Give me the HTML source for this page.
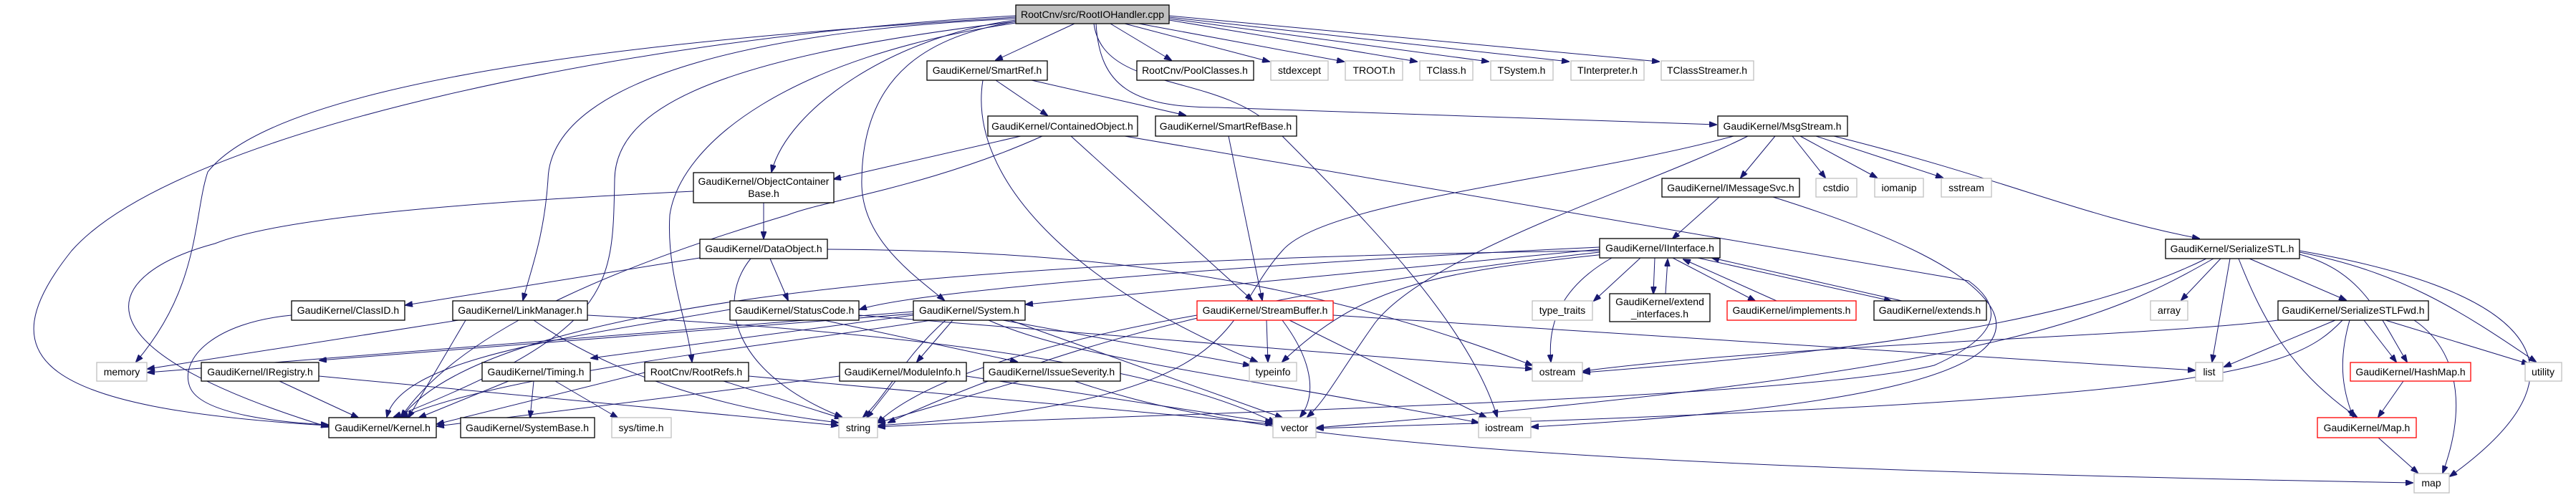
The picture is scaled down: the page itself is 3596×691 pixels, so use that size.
<!DOCTYPE html>
<html><head><meta charset="utf-8"><style>
html,body{margin:0;padding:0;background:#fff;width:3596px;height:691px;overflow:hidden}
svg{display:block}
text{font-family:"Liberation Sans",sans-serif;font-size:14px;fill:#000;text-anchor:middle}
.n{fill:#fff;stroke:#000;stroke-width:1.3}
.g{fill:#fff;stroke:#bfbfbf;stroke-width:1.3}
.r{fill:#fff;stroke:#ff0000;stroke-width:1.3}
.e path{fill:none;stroke:#191970;stroke-width:1}
</style></head><body>
<svg width="3596" height="691" viewBox="0 0 3596 691" xmlns="http://www.w3.org/2000/svg">
<defs><marker id="a" markerWidth="11" markerHeight="8" refX="10" refY="4" orient="auto" markerUnits="userSpaceOnUse"><path d="M0,0 L11,4 L0,8 z" fill="#191970" stroke="#191970"/></marker></defs>
<g class="e" marker-end="url(#a)">
<path d="M1500,33 L1390,84"/>
<path d="M1550,33 L1635,84"/>
<path d="M1570,33 L1772,86"/>
<path d="M1590,33 L1876,86"/>
<path d="M1632,28 L1978,86"/>
<path d="M1632,26 L2078,86"/>
<path d="M1632,24 L2190,86"/>
<path d="M1632,22 L2316,86"/>
<path d="M1530,33 C1535,120 1580,150 1700,150 L2396,174"/>
<path d="M1527,33 C1540,130 1700,100 1780,180 C1900,300 2050,450 2090,582"/>
<path d="M1418,30 C1300,50 1205,100 1203,250 C1200,330 1270,380 1318,419"/>
<path d="M1418,28 C1250,50 1100,150 1077,240"/>
<path d="M1418,26 C1100,40 770,100 765,250 C760,330 740,380 730,419"/>
<path d="M1418,24 C1000,50 400,100 290,240 C270,300 280,400 190,505"/>
<path d="M1418,22 C900,50 250,180 100,350 C-20,500 50,570 458,594"/>
<path d="M1418,32 C1100,80 950,200 935,300 C930,380 960,450 966,505"/>
<path d="M1418,30 C1000,80 860,150 858,250 C855,400 860,460 550,582"/>
<path d="M1390,112 L1462,161"/>
<path d="M1440,112 L1655,161"/>
<path d="M1372,112 C1350,250 1500,400 1755,505"/>
<path d="M1425,190 L1164,250"/>
<path d="M1495,190 L1748,419"/>
<path d="M1455,190 C1300,260 1150,280 1100,300 C900,360 650,450 560,582"/>
<path d="M1570,190 L2748,392 C2800,430 2790,470 2700,510 C2500,560 1500,580 1226,596"/>
<path d="M1715,190 L1762,419"/>
<path d="M2478,190 L2430,248"/>
<path d="M2502,190 L2548,248"/>
<path d="M2513,190 L2620,248"/>
<path d="M2535,190 L2712,248"/>
<path d="M2560,190 C2800,250 2900,300 3070,333"/>
<path d="M2440,190 C2300,260 2000,350 1920,450 C1870,520 1850,560 1825,582"/>
<path d="M2420,190 C2200,250 1850,280 1790,350 C1700,450 1750,560 1226,594"/>
<path d="M2400,275 L2335,333"/>
<path d="M2475,275 C2650,330 2750,380 2780,430 C2830,520 2600,570 2138,596"/>
<path d="M1066,283 L1066,333"/>
<path d="M968,267 C700,280 400,300 300,340 C150,380 80,480 458,596"/>
<path d="M977,360 L566,426"/>
<path d="M1075,361 L1100,419"/>
<path d="M1048,361 C1000,420 1020,520 1175,582"/>
<path d="M1155,348 C1500,350 1800,380 2139,510"/>
<path d="M2233,345 C1900,360 1300,400 1200,432"/>
<path d="M2233,348 L1432,425"/>
<path d="M2240,355 C2000,380 1900,400 1790,505"/>
<path d="M2290,360 L2225,420"/>
<path d="M2310,360 L2308,410"/>
<path d="M2325,410 L2328,362"/>
<path d="M2335,360 L2450,420"/>
<path d="M2480,420 L2350,362"/>
<path d="M2370,360 L2640,420"/>
<path d="M2655,420 L2390,360"/>
<path d="M2250,360 C2180,400 2160,450 2165,505"/>
<path d="M2233,352 C1800,400 1500,470 1240,590"/>
<path d="M2233,350 C1500,360 700,400 560,583"/>
<path d="M3080,361 C2900,450 2600,490 2210,520"/>
<path d="M3090,361 C2950,440 2800,520 1838,597"/>
<path d="M3100,361 L3045,419"/>
<path d="M3113,361 L3088,505"/>
<path d="M3140,361 L3275,419"/>
<path d="M3125,361 C3160,450 3200,520 3290,582"/>
<path d="M3210,355 C3300,380 3320,440 3360,505"/>
<path d="M3210,352 C3350,380 3430,430 3540,505"/>
<path d="M3210,350 C3500,400 3650,500 3420,665"/>
<path d="M3260,447 L3105,512"/>
<path d="M3180,447 C3000,470 2500,480 2210,518"/>
<path d="M3270,447 C3200,520 3100,560 1838,598"/>
<path d="M3280,447 C3265,500 3268,540 3285,582"/>
<path d="M3300,447 L3345,505"/>
<path d="M3330,447 L3530,508"/>
<path d="M3370,447 C3420,480 3450,550 3410,660"/>
<path d="M3355,532 L3320,582"/>
<path d="M3320,611 L3375,660"/>
<path d="M1500,532 C1700,600 2000,650 3368,674"/>
<path d="M640,447 L206,515"/>
<path d="M650,447 L570,583"/>
<path d="M745,447 C850,520 1000,570 1170,590"/>
<path d="M820,440 C1200,460 1600,500 1780,590"/>
<path d="M407,440 C300,450 250,500 265,540 C280,580 400,590 458,593"/>
<path d="M1019,432 C800,470 560,500 540,582"/>
<path d="M1150,447 L1420,505"/>
<path d="M1199,440 L2139,515"/>
<path d="M1330,447 L1280,505"/>
<path d="M1275,440 L825,500"/>
<path d="M1275,438 L446,503"/>
<path d="M1300,447 C1100,480 700,520 560,583"/>
<path d="M1320,447 C1260,500 1240,550 1205,582"/>
<path d="M1400,447 L1745,510"/>
<path d="M1410,447 L1790,583"/>
<path d="M1380,447 C1500,500 1700,520 2064,590"/>
<path d="M1275,435 L206,520"/>
<path d="M1768,447 L1770,505"/>
<path d="M1790,447 C1830,500 1840,550 1815,582"/>
<path d="M1800,447 L2075,583"/>
<path d="M1671,440 C1500,470 1300,520 1225,590"/>
<path d="M1861,440 L3064,517"/>
<path d="M390,532 L500,583"/>
<path d="M445,525 L1170,594"/>
<path d="M710,532 L585,583"/>
<path d="M745,532 L740,583"/>
<path d="M775,532 L862,583"/>
<path d="M900,520 L610,592"/>
<path d="M1010,532 L1175,584"/>
<path d="M1045,525 L1777,592"/>
<path d="M1250,532 L1210,583"/>
<path d="M1172,525 L610,595"/>
<path d="M1349,525 L1776,590"/>
<path d="M1423,532 L1226,590"/>
</g>
<rect x="1418" y="7" width="214" height="26" fill="#bfbfbf" stroke="#000" stroke-width="1.3"/><text x="1525" y="25">RootCnv/src/RootIOHandler.cpp</text>
<rect class="n" x="1294" y="85" width="168" height="27"/><text x="1378" y="103">GaudiKernel/SmartRef.h</text>
<rect class="n" x="1587" y="85" width="163" height="27"/><text x="1668" y="103">RootCnv/PoolClasses.h</text>
<rect class="g" x="1774" y="85" width="80" height="27"/><text x="1814" y="103">stdexcept</text>
<rect class="g" x="1878" y="85" width="80" height="27"/><text x="1918" y="103">TROOT.h</text>
<rect class="g" x="1982" y="85" width="74" height="27"/><text x="2019" y="103">TClass.h</text>
<rect class="g" x="2081" y="85" width="87" height="27"/><text x="2124" y="103">TSystem.h</text>
<rect class="g" x="2193" y="85" width="102" height="27"/><text x="2244" y="103">TInterpreter.h</text>
<rect class="g" x="2319" y="85" width="129" height="27"/><text x="2383" y="103">TClassStreamer.h</text>
<rect class="n" x="1379" y="162" width="209" height="28"/><text x="1483" y="181">GaudiKernel/ContainedObject.h</text>
<rect class="n" x="1613" y="162" width="197" height="28"/><text x="1711" y="181">GaudiKernel/SmartRefBase.h</text>
<rect class="n" x="2398" y="162" width="181" height="28"/><text x="2488" y="181">GaudiKernel/MsgStream.h</text>
<rect class="n" x="968" y="241" width="196" height="42"/><text x="1066" y="258">GaudiKernel/ObjectContainer</text><text x="1066" y="275">Base.h</text>
<rect class="n" x="2320" y="249" width="192" height="26"/><text x="2416" y="267">GaudiKernel/IMessageSvc.h</text>
<rect class="g" x="2535" y="249" width="57" height="26"/><text x="2563" y="267">cstdio</text>
<rect class="g" x="2617" y="249" width="68" height="26"/><text x="2651" y="267">iomanip</text>
<rect class="g" x="2710" y="249" width="70" height="26"/><text x="2745" y="267">sstream</text>
<rect class="n" x="977" y="334" width="178" height="27"/><text x="1066" y="352">GaudiKernel/DataObject.h</text>
<rect class="n" x="2233" y="333" width="168" height="27"/><text x="2317" y="351">GaudiKernel/IInterface.h</text>
<rect class="n" x="3023" y="334" width="187" height="27"/><text x="3116" y="352">GaudiKernel/SerializeSTL.h</text>
<rect class="n" x="407" y="420" width="158" height="27"/><text x="486" y="438">GaudiKernel/ClassID.h</text>
<rect class="n" x="632" y="420" width="188" height="27"/><text x="726" y="438">GaudiKernel/LinkManager.h</text>
<rect class="n" x="1019" y="420" width="180" height="27"/><text x="1109" y="438">GaudiKernel/StatusCode.h</text>
<rect class="n" x="1275" y="420" width="156" height="27"/><text x="1353" y="438">GaudiKernel/System.h</text>
<rect class="r" x="1671" y="420" width="190" height="27"/><text x="1766" y="438">GaudiKernel/StreamBuffer.h</text>
<rect class="g" x="2139" y="420" width="84" height="27"/><text x="2181" y="438">type_traits</text>
<rect class="n" x="2247" y="410" width="140" height="39"/><text x="2317" y="426">GaudiKernel/extend</text><text x="2317" y="443">_interfaces.h</text>
<rect class="r" x="2411" y="420" width="180" height="27"/><text x="2501" y="438">GaudiKernel/implements.h</text>
<rect class="n" x="2616" y="420" width="157" height="27"/><text x="2694" y="438">GaudiKernel/extends.h</text>
<rect class="g" x="3002" y="420" width="52" height="27"/><text x="3028" y="438">array</text>
<rect class="n" x="3180" y="420" width="210" height="27"/><text x="3285" y="438">GaudiKernel/SerializeSTLFwd.h</text>
<rect class="g" x="135" y="506" width="70" height="26"/><text x="170" y="524">memory</text>
<rect class="n" x="281" y="506" width="164" height="26"/><text x="363" y="524">GaudiKernel/IRegistry.h</text>
<rect class="n" x="673" y="506" width="151" height="26"/><text x="748" y="524">GaudiKernel/Timing.h</text>
<rect class="n" x="900" y="506" width="145" height="26"/><text x="972" y="524">RootCnv/RootRefs.h</text>
<rect class="n" x="1172" y="506" width="177" height="26"/><text x="1260" y="524">GaudiKernel/ModuleInfo.h</text>
<rect class="n" x="1373" y="506" width="191" height="26"/><text x="1468" y="524">GaudiKernel/IssueSeverity.h</text>
<rect class="g" x="1744" y="506" width="66" height="26"/><text x="1777" y="524">typeinfo</text>
<rect class="g" x="2139" y="506" width="70" height="26"/><text x="2174" y="524">ostream</text>
<rect class="g" x="3065" y="506" width="38" height="26"/><text x="3084" y="524">list</text>
<rect class="r" x="3281" y="506" width="168" height="26"/><text x="3365" y="524">GaudiKernel/HashMap.h</text>
<rect class="g" x="3525" y="506" width="51" height="26"/><text x="3550" y="524">utility</text>
<rect class="n" x="459" y="583" width="150" height="28"/><text x="534" y="602">GaudiKernel/Kernel.h</text>
<rect class="n" x="643" y="583" width="187" height="28"/><text x="736" y="602">GaudiKernel/SystemBase.h</text>
<rect class="g" x="854" y="583" width="83" height="28"/><text x="895" y="602">sys/time.h</text>
<rect class="g" x="1171" y="583" width="54" height="28"/><text x="1198" y="602">string</text>
<rect class="g" x="1777" y="583" width="60" height="28"/><text x="1807" y="602">vector</text>
<rect class="g" x="2064" y="583" width="73" height="28"/><text x="2100" y="602">iostream</text>
<rect class="r" x="3235" y="583" width="138" height="28"/><text x="3304" y="602">GaudiKernel/Map.h</text>
<rect class="g" x="3370" y="661" width="49" height="27"/><text x="3394" y="679">map</text>
</svg>
</body></html>
